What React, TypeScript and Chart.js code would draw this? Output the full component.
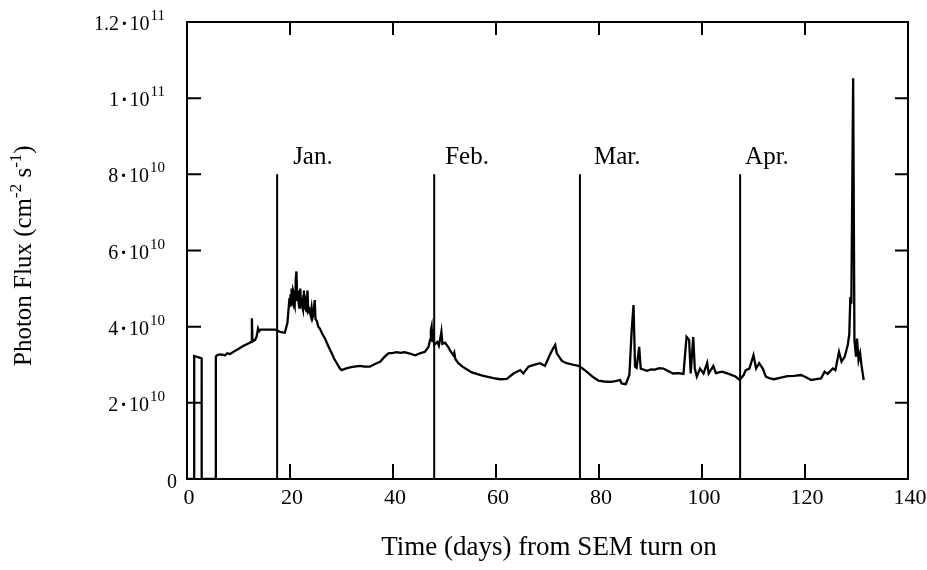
import React, { useEffect, useRef } from "react";
import { Chart, registerables } from "chart.js";

Chart.register(...registerables);

const SERIF = '"Liberation Serif", "Times New Roman", serif';

// Days since the SEM was switched on
const days = [
  0, 1.4, 1.4, 2.85, 2.85, 5.6, 5.6, 5.8, 6.4, 7.4, 7.8, 8.35, 9.65, 10.9, 12.2, 12.5, 12.6, 12.7,
  13.2, 13.5, 13.8, 14.0, 14.3, 17.1, 17.5, 18.1, 19.0, 19.5, 19.7, 19.9, 20.0, 20.1, 20.2, 20.3,
  20.4, 20.5, 20.6, 20.7, 20.8, 20.9, 21.0, 21.1, 21.25, 21.4, 21.5, 21.6, 21.7, 21.8, 21.9, 22.0,
  22.15, 22.3, 22.4, 22.5, 22.6, 22.7, 22.85, 23.0, 23.1, 23.2, 23.3, 23.4, 23.55, 23.75, 23.9, 24.0,
  24.2, 24.4, 24.6, 24.8, 24.95, 25.2, 25.5, 25.8, 26.3, 26.8, 27.4, 28.1, 28.6, 29.1, 29.6,
  30.0, 30.8, 31.65, 32.5, 33.6, 34.5, 35.5, 36.5, 37.5, 38.3, 39.1, 40.0, 40.7, 41.5, 42.2, 43.3,
  44.3, 45.2, 46.2, 46.9, 47.2, 47.35, 47.5, 47.65, 47.8, 48.0, 48.2, 48.6, 48.9, 49.2, 49.4, 49.6,
  50.1, 50.7, 51.2, 51.7, 51.9, 52.1, 52.7, 53.5, 54.3, 55.3, 56.25, 57.2, 58.2, 59.5, 60.8, 62.1,
  63.4, 64.7, 65.3, 66.3, 67.2, 68.5, 69.5, 70.3, 70.6, 71.1, 71.5, 71.8, 72.8, 73.7, 75.0, 76.0,
  76.8, 77.6, 78.9, 79.9, 81.0, 82.2, 83.2, 84.1, 84.4, 85.2, 85.9, 86.35, 86.7, 87.0, 87.3, 87.8,
  88.1, 89.3, 90.1, 90.9, 91.7, 92.5, 93.5, 94.4, 95.4, 96.4, 97.0, 97.5, 97.8, 98.3, 98.6, 99.0,
  99.6, 100.3, 101.0, 101.3, 102.2, 102.7, 103.9, 105.2, 106.5, 107.3, 108.1, 108.5, 109.2, 110.0,
  110.5, 111.1, 111.8, 112.4, 113.2, 114.0, 115.3, 116.6, 117.9, 119.2, 120.2, 121.2, 122.2, 123.1,
  123.8, 124.4, 125.4, 125.9, 126.6, 127.1, 127.7, 128.3, 128.6, 128.8, 129.0, 129.35, 129.6, 129.9,
  130.1, 130.4, 130.7, 131.0, 131.4,
];

// Photon flux, in units of 1e10 cm^-2 s^-1
const flux = [
  0, 0, 3.23, 3.17, 0, 0, 3.21, 3.25, 3.27, 3.25, 3.3, 3.28, 3.39, 3.49, 3.58, 3.6, 4.22, 3.62,
  3.65, 3.73, 3.95, 3.88, 3.92, 3.92, 3.9, 3.86, 3.84, 4.1, 4.43, 4.75, 4.55, 4.85, 4.6, 5.0,
  4.7, 4.65, 4.95, 4.9, 4.6, 4.55, 4.85, 5.2, 5.45, 4.7, 4.85, 4.95, 4.6, 4.5, 4.8, 5.0,
  4.55, 4.75, 4.5, 4.45, 4.8, 4.95, 4.45, 4.6, 4.45, 4.4, 4.7, 4.95, 4.4, 4.45, 4.35, 4.3,
  4.5, 4.25, 4.35, 4.7, 4.2, 4.15, 4.0, 3.95, 3.8, 3.69, 3.5, 3.3, 3.15, 3.04, 2.92,
  2.86, 2.9, 2.93, 2.95, 2.97, 2.95, 2.95, 3.02, 3.08, 3.2, 3.3, 3.31, 3.33, 3.31, 3.33, 3.29,
  3.25, 3.3, 3.34, 3.47, 3.65, 3.9, 4.0, 3.6, 3.75, 3.52, 3.55, 3.6, 3.5, 3.7, 3.87, 3.55,
  3.58, 3.47, 3.35, 3.25, 3.32, 3.15, 3.04, 2.95, 2.88, 2.8, 2.76, 2.72, 2.69, 2.65, 2.62, 2.63,
  2.77, 2.86, 2.77, 2.95, 2.99, 3.04, 2.97, 3.21, 3.3, 3.43, 3.52, 3.3, 3.1, 3.04, 3.0, 2.97,
  2.9, 2.82, 2.67, 2.58, 2.56, 2.55, 2.57, 2.6, 2.51, 2.49, 2.73, 3.91, 4.57, 2.95, 2.92, 3.47,
  2.9, 2.84, 2.88, 2.87, 2.91, 2.9, 2.83, 2.77, 2.78, 2.76, 3.73, 3.65, 2.77, 3.73, 2.9, 2.69,
  2.9, 2.77, 3.05, 2.77, 2.97, 2.78, 2.82, 2.76, 2.69, 2.6, 2.73, 2.86, 2.9, 3.25,
  2.9, 3.04, 2.9, 2.69, 2.64, 2.62, 2.66, 2.7, 2.71, 2.73, 2.67, 2.6, 2.62, 2.64,
  2.82, 2.76, 2.9, 2.86, 3.34, 3.08, 3.21, 3.52, 3.8, 4.78, 4.6, 10.52, 3.65, 3.21,
  3.69, 3.12, 3.3, 2.95, 2.6,
];

// Month boundaries (days) and their labels
const monthNames = ["Jan.", "Feb.", "Mar.", "Apr."];
const monthDays = [17.5, 48.0, 76.3, 107.4];
const monthLineTop = 8;

const xTicks = [0, 20, 40, 60, 80, 100, 120, 140];
const yTicks = [0, 2, 4, 6, 8, 10, 12];
const yTickMantissas = ["0", "2", "4", "6", "8", "1", "1.2"];
const yTickExponents = ["", "10", "10", "10", "10", "11", "11"];

const monthLabelGap = [16, 11, 14, 5];

function drawYTickLabel(ctx: CanvasRenderingContext2D, mant: string, exp: string, right: number, yPix: number) {
  const mainFont = `20px ${SERIF}`;
  const supFont = `15px ${SERIF}`;
  ctx.textBaseline = "alphabetic";
  if (!exp) {
    ctx.font = mainFont;
    ctx.textAlign = "right";
    ctx.fillText(mant, right + 12, yPix + 9);
    return;
  }
  ctx.font = mainFont;
  const wm = ctx.measureText(mant).width;
  const wd = ctx.measureText("\u00B7").width;
  const wt = ctx.measureText("10").width;
  ctx.font = supFont;
  const we = ctx.measureText(exp).width;
  const gap = 2;
  let x0 = right - (wm + gap + wd + gap + wt + 1 + we);
  ctx.textAlign = "left";
  ctx.font = mainFont;
  ctx.fillText(mant, x0, yPix + 8);
  x0 += wm + gap;
  ctx.font = `bold 20px ${SERIF}`;
  ctx.fillText("\u00B7", x0, yPix + 8);
  x0 += wd + gap;
  ctx.font = mainFont;
  ctx.fillText("10", x0, yPix + 8);
  x0 += wt + 1;
  ctx.font = supFont;
  ctx.fillText(exp, x0, yPix - 2);
}

const decorations = {
  id: "decorations",
  afterDraw(chart: any) {
    const { ctx, chartArea: a } = chart;
    const xs = chart.scales.x;
    const ys = chart.scales.y;
    ctx.save();
    ctx.strokeStyle = "#000";
    ctx.fillStyle = "#000";
    ctx.lineWidth = 2;
    ctx.strokeRect(a.left, a.top, a.right - a.left, a.bottom - a.top);

    // inward tick marks on all four sides
    ctx.beginPath();
    for (const v of yTicks) {
      if (v === yTicks[0] || v === yTicks[yTicks.length - 1]) continue;
      const p = ys.getPixelForValue(v);
      ctx.moveTo(a.left, p);
      ctx.lineTo(a.left + 14, p);
      ctx.moveTo(a.right, p);
      ctx.lineTo(a.right - 13, p);
    }
    for (const v of xTicks) {
      if (v === xTicks[0] || v === xTicks[xTicks.length - 1]) continue;
      const p = xs.getPixelForValue(v);
      ctx.moveTo(p, a.bottom);
      ctx.lineTo(p, a.bottom - 15);
      ctx.moveTo(p, a.top);
      ctx.lineTo(p, a.top + 13);
    }
    ctx.stroke();

    // tick labels
    yTicks.forEach((v, i) => {
      drawYTickLabel(ctx, yTickMantissas[i], yTickExponents[i], a.left - 22, ys.getPixelForValue(v));
    });
    ctx.font = `22px ${SERIF}`;
    ctx.textAlign = "center";
    ctx.textBaseline = "alphabetic";
    xTicks.forEach((v) => {
      ctx.fillText(String(v), xs.getPixelForValue(v) + 2, a.bottom + 25);
    });

    // month labels
    ctx.font = `25px ${SERIF}`;
    ctx.textAlign = "left";
    monthNames.forEach((name, i) => {
      ctx.fillText(name, xs.getPixelForValue(monthDays[i]) + monthLabelGap[i], ys.getPixelForValue(monthLineTop) - 10);
    });

    // x axis title
    ctx.font = `27px ${SERIF}`;
    ctx.textAlign = "center";
    ctx.fillText("Time (days) from SEM turn on", 549, 555);

    // y axis title, rotated, with superscripts
    ctx.translate(31, 366);
    ctx.rotate(-Math.PI / 2);
    ctx.textAlign = "left";
    const parts: [string, boolean][] = [
      ["Photon Flux (cm", false],
      ["-2", true],
      [" s", false],
      ["-1", true],
      [")", false],
    ];
    let cx = 0;
    for (const [t, sup] of parts) {
      ctx.font = sup ? `17px ${SERIF}` : `25px ${SERIF}`;
      ctx.fillText(t, cx, sup ? -10 : 0);
      cx += ctx.measureText(t).width;
    }
    ctx.restore();
  },
};

export default function App() {
  const ref = useRef<HTMLCanvasElement | null>(null);

  useEffect(() => {
    if (!ref.current) return;
    const fluxPoints = days.map((d, i) => ({ x: d, y: flux[i] }));
    const monthSets = monthDays.map((d) => ({
      data: [
        { x: d, y: 0 },
        { x: d, y: monthLineTop },
      ],
      borderColor: "#000",
      borderWidth: 2,
      pointRadius: 0,
    }));
    const chart = new Chart(ref.current, {
      type: "line",
      data: {
        datasets: [
          {
            data: fluxPoints,
            borderColor: "#000",
            borderWidth: 2.3,
            pointRadius: 0,
            tension: 0,
          },
          ...monthSets,
        ],
      },
      options: {
        animation: false,
        responsive: false,
        maintainAspectRatio: false,
        layout: { padding: { left: 187, right: 19, top: 22, bottom: 91 } },
        plugins: { legend: { display: false }, tooltip: { enabled: false } },
        scales: {
          x: { type: "linear", min: 0, max: 140, display: false },
          y: { type: "linear", min: 0, max: 12, display: false },
        },
      },
      plugins: [decorations],
    });
    return () => chart.destroy();
  }, []);

  return (
    <div style={{ position: "fixed", left: 0, top: 0, width: 927, height: 570, background: "#fff" }}>
      <canvas ref={ref} width={927} height={570} style={{ width: 927, height: 570 }} />
    </div>
  );
}
